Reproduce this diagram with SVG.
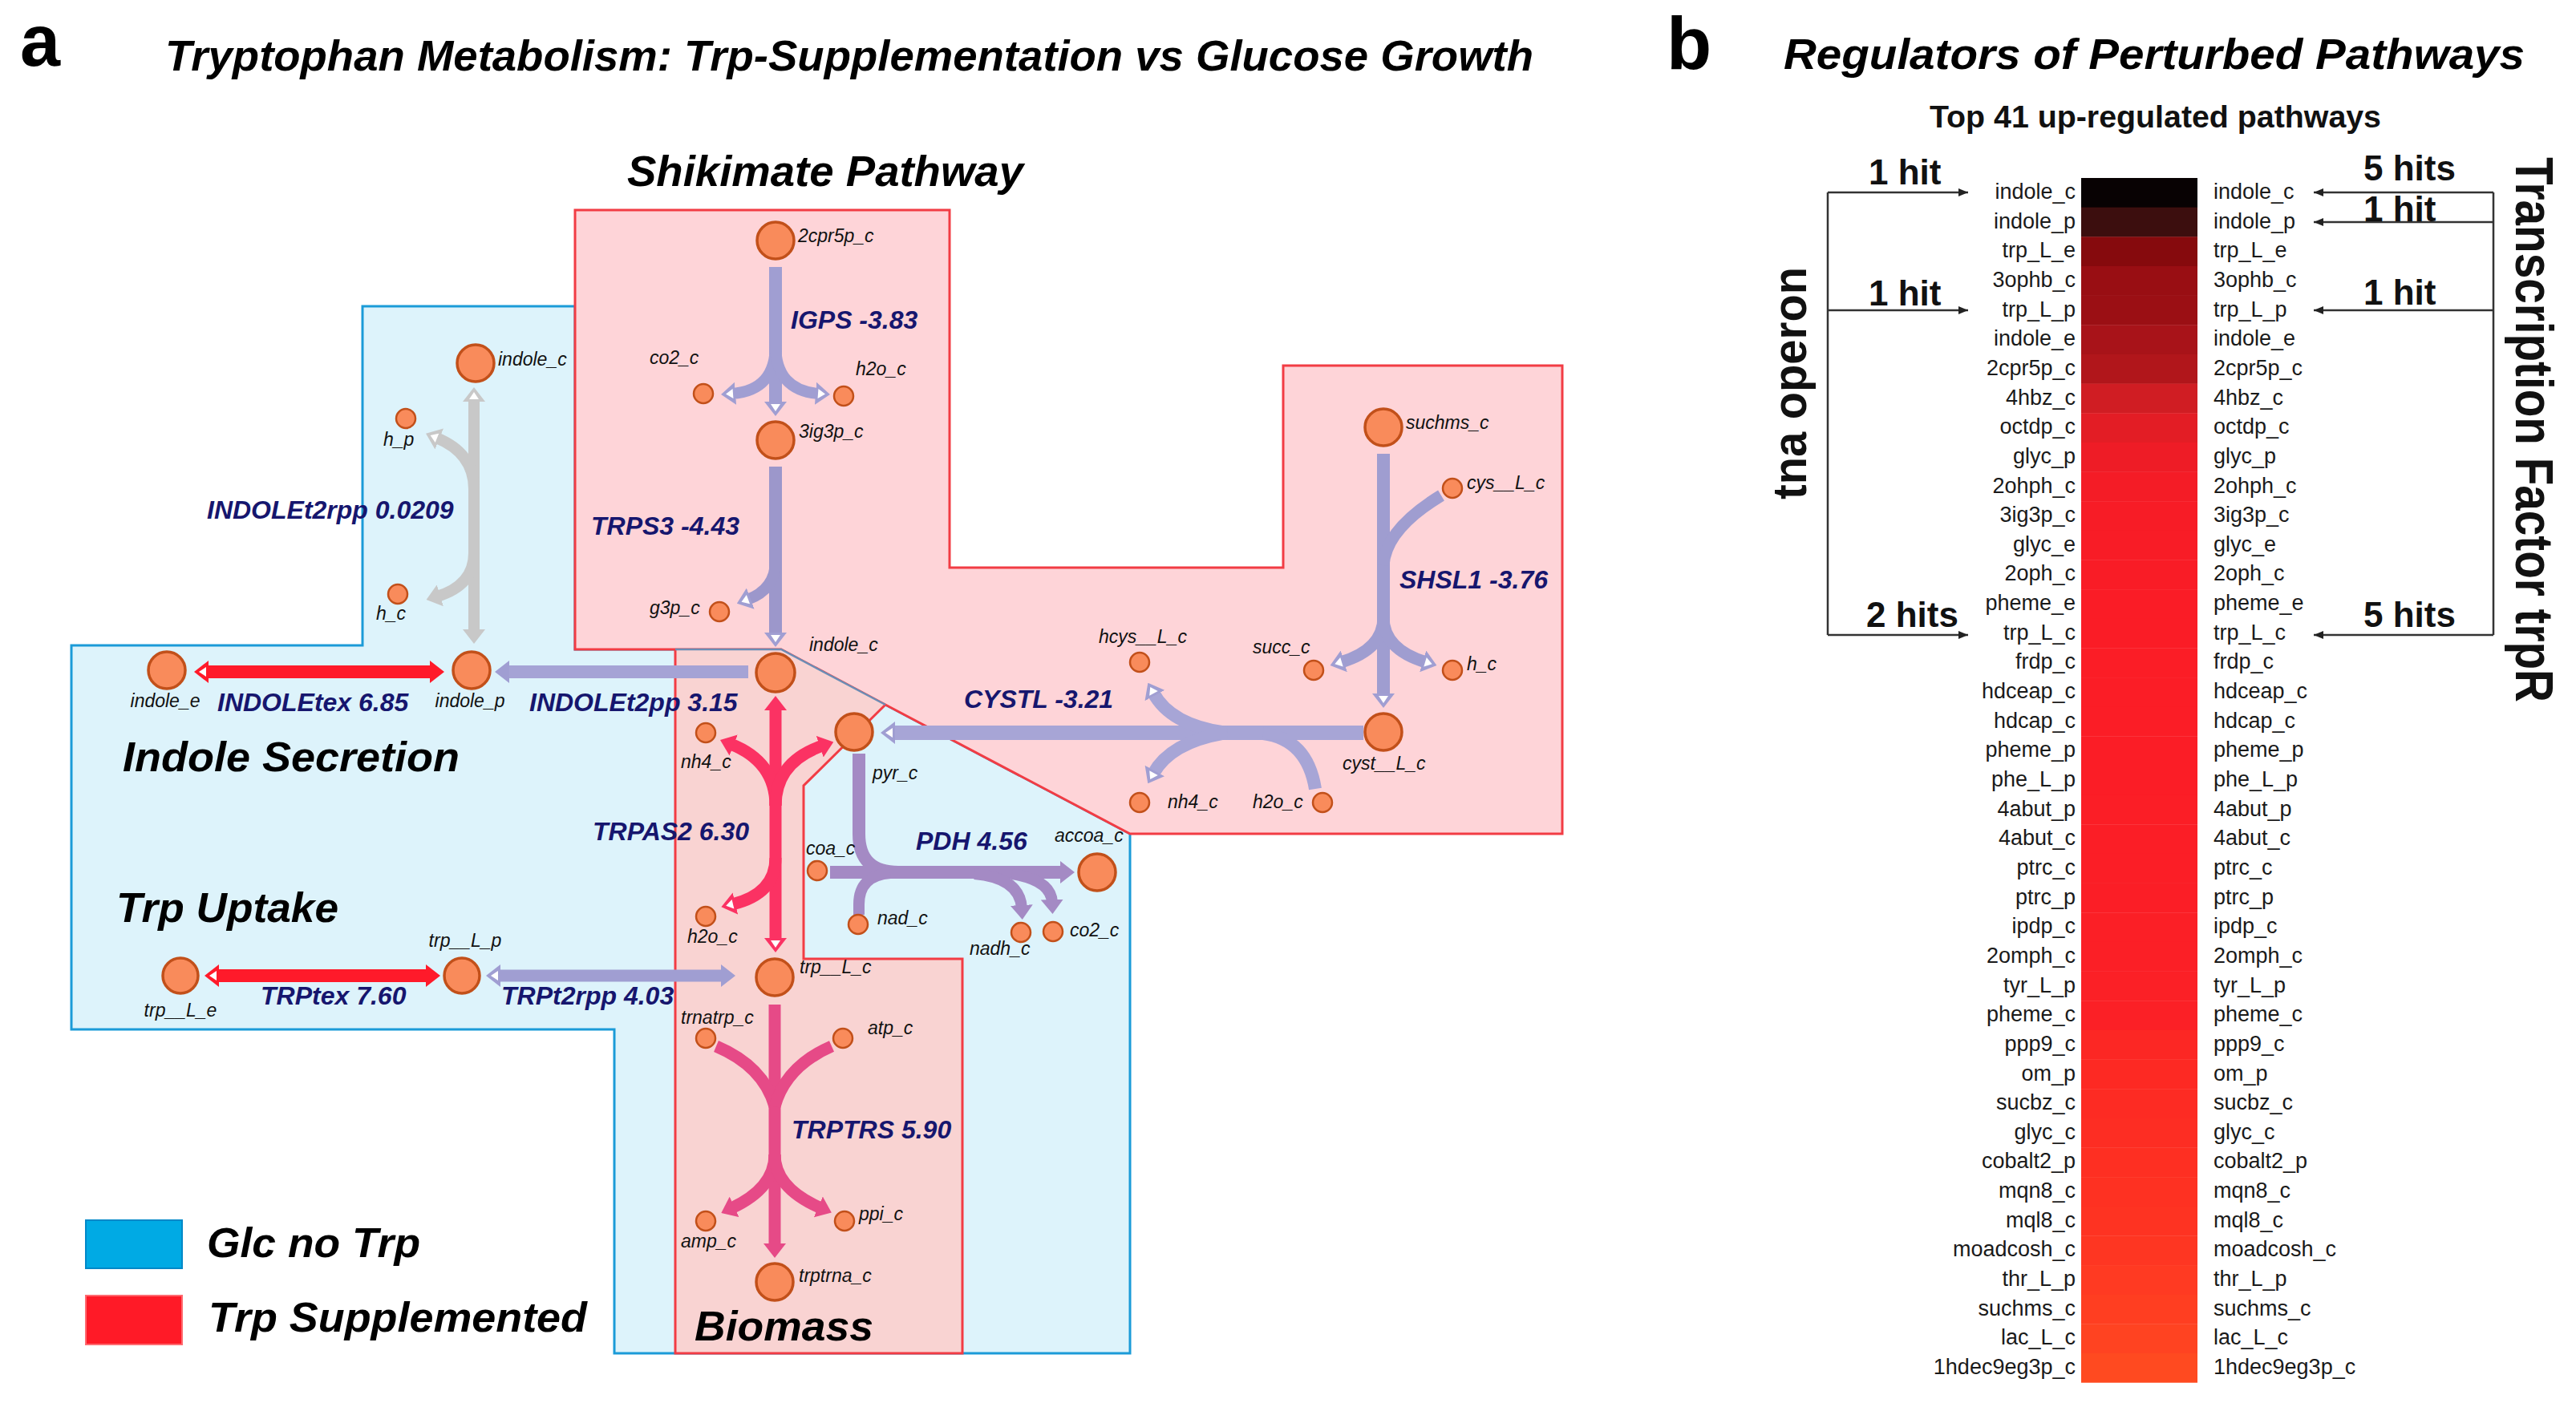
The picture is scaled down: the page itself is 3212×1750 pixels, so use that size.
<svg xmlns="http://www.w3.org/2000/svg" width="3212" height="1750" viewBox="0 0 3212 1750">
<style>
.ttl{font-family:'Liberation Sans',Arial,sans-serif;font-weight:bold;font-style:italic;fill:#000}
.rx{font-family:'Liberation Sans',Arial,sans-serif;font-weight:bold;font-style:italic;font-size:32px;fill:#16166e}
.nl{font-family:'Liberation Sans',Arial,sans-serif;font-style:italic;font-size:23px;fill:#111}
.hl{font-family:'Liberation Sans',Arial,sans-serif;font-size:27px;fill:#1a1a1a}
.hit{font-family:'Liberation Sans',Arial,sans-serif;font-weight:bold;font-size:44px;fill:#111}
.big{fill:#f98b5b;stroke:#c2501a;stroke-width:3.5}
.sm{fill:#f98b5b;stroke:#c2501a;stroke-width:2.5}
.ar{fill:none;stroke-linecap:butt;stroke-linejoin:round}
.ann{fill:none;stroke:#333;stroke-width:2.5}
</style>
<defs>
<marker id="s-gray" viewBox="0 0 18 28" refX="4" refY="14" markerWidth="18" markerHeight="28" markerUnits="userSpaceOnUse" orient="auto-start-reverse"><path d="M0,0 L18,14 L0,28 Z" fill="#c8c8c8"/></marker>
<marker id="h-gray" viewBox="0 0 18 28" refX="4" refY="14" markerWidth="18" markerHeight="28" markerUnits="userSpaceOnUse" orient="auto-start-reverse"><path d="M0,0 L18,14 L0,28 Z" fill="#c8c8c8"/><path d="M3,8 L12,14 L3,20 Z" fill="#fff"/></marker>
<marker id="s-lav" viewBox="0 0 18 28" refX="4" refY="14" markerWidth="18" markerHeight="28" markerUnits="userSpaceOnUse" orient="auto-start-reverse"><path d="M0,0 L18,14 L0,28 Z" fill="#a09ed2"/></marker>
<marker id="h-lav" viewBox="0 0 18 28" refX="4" refY="14" markerWidth="18" markerHeight="28" markerUnits="userSpaceOnUse" orient="auto-start-reverse"><path d="M0,0 L18,14 L0,28 Z" fill="#a09ed2"/><path d="M3,8 L12,14 L3,20 Z" fill="#fff"/></marker>
<marker id="s-pdh" viewBox="0 0 18 28" refX="4" refY="14" markerWidth="18" markerHeight="28" markerUnits="userSpaceOnUse" orient="auto-start-reverse"><path d="M0,0 L18,14 L0,28 Z" fill="#a48ac4"/></marker>
<marker id="s-red" viewBox="0 0 18 28" refX="4" refY="14" markerWidth="18" markerHeight="28" markerUnits="userSpaceOnUse" orient="auto-start-reverse"><path d="M0,0 L18,14 L0,28 Z" fill="#ff1a2a"/></marker>
<marker id="h-red" viewBox="0 0 18 28" refX="4" refY="14" markerWidth="18" markerHeight="28" markerUnits="userSpaceOnUse" orient="auto-start-reverse"><path d="M0,0 L18,14 L0,28 Z" fill="#ff1a2a"/><path d="M3,8 L12,14 L3,20 Z" fill="#fff"/></marker>
<marker id="s-tas" viewBox="0 0 18 28" refX="4" refY="14" markerWidth="18" markerHeight="28" markerUnits="userSpaceOnUse" orient="auto-start-reverse"><path d="M0,0 L18,14 L0,28 Z" fill="#fb3263"/></marker>
<marker id="h-tas" viewBox="0 0 18 28" refX="4" refY="14" markerWidth="18" markerHeight="28" markerUnits="userSpaceOnUse" orient="auto-start-reverse"><path d="M0,0 L18,14 L0,28 Z" fill="#fb3263"/><path d="M3,8 L12,14 L3,20 Z" fill="#fff"/></marker>
<marker id="s-trs" viewBox="0 0 18 28" refX="4" refY="14" markerWidth="18" markerHeight="28" markerUnits="userSpaceOnUse" orient="auto-start-reverse"><path d="M0,0 L18,14 L0,28 Z" fill="#e64a87"/></marker>
<marker id="ah" viewBox="0 0 12 10" refX="12" refY="5" markerWidth="12" markerHeight="10" markerUnits="userSpaceOnUse" orient="auto"><path d="M0,0 L12,5 L0,10 Z" fill="#222"/></marker>
</defs>
<rect width="3212" height="1750" fill="#fff"/>

<!-- compartments -->
<g id="regions">
<polygon points="452,382 717,382 717,810 974,810 1104,879 1409,1040 1409,1688 766,1688 766,1284 89,1284 89,805 452,805" fill="#ddf3fb" stroke="#1b9bd8" stroke-width="3"/>
<polygon points="717,262 1184,262 1184,708 1600,708 1600,456 1948,456 1948,1040 1409,1040 1104,879 974,810 717,810" fill="#fed4d8" stroke="#f23c44" stroke-width="3"/>
<polygon points="842,810 974,810 1104,879 1002,980 1002,1196 1200,1196 1200,1688 842,1688" fill="#f9d3d2"/>
<polyline points="1104,879 1002,980 1002,1196 1200,1196 1200,1688 842,1688 842,810" fill="none" stroke="#f23c44" stroke-width="3"/>
<polyline points="842,810 974,810 1104,879" fill="none" stroke="#6b8db5" stroke-width="2.5"/>
</g>

<!-- titles -->
<text class="ttl" style="font-style:normal" x="25" y="82" font-size="90">a</text>
<text class="ttl" x="206" y="88" font-size="53" textLength="1706" lengthAdjust="spacingAndGlyphs">Tryptophan Metabolism: Trp-Supplementation vs Glucose Growth</text>
<text class="ttl" x="782" y="232" font-size="53" textLength="494" lengthAdjust="spacingAndGlyphs">Shikimate Pathway</text>
<text class="ttl" x="153" y="962" font-size="52" textLength="420" lengthAdjust="spacingAndGlyphs">Indole Secretion</text>
<text class="ttl" x="145" y="1150" font-size="52" textLength="277" lengthAdjust="spacingAndGlyphs">Trp Uptake</text>
<text class="ttl" x="866" y="1672" font-size="52" textLength="223" lengthAdjust="spacingAndGlyphs">Biomass</text>

<!-- connectors -->
<g id="connectors" class="ar">
<!-- INDOLEt2rpp (gray) -->
<path d="M591,497 L591,789" stroke="#c8c8c8" stroke-width="14" marker-start="url(#h-gray)" marker-end="url(#s-gray)"/>
<path d="M591,640 L591,610 Q591,565 544,546" stroke="#c8c8c8" stroke-width="14" marker-end="url(#h-gray)"/>
<path d="M591,640 L591,690 Q591,730 545,744" stroke="#c8c8c8" stroke-width="14" marker-end="url(#s-gray)"/>
<!-- IGPS -->
<path d="M967,333 L967,505" stroke="#a09ed2" stroke-width="16" marker-end="url(#h-lav)"/>
<path d="M967,430 Q967,487 913,491" stroke="#a09ed2" stroke-width="14" marker-end="url(#h-lav)"/>
<path d="M967,430 Q967,487 1021,491" stroke="#a09ed2" stroke-width="14" marker-end="url(#h-lav)"/>
<!-- TRPS3 -->
<path d="M967,582 L967,793" stroke="#9c97cb" stroke-width="16" marker-end="url(#h-lav)"/>
<path d="M967,700 Q967,735 932,748" stroke="#9c97cb" stroke-width="14" marker-end="url(#h-lav)"/>
<!-- INDOLEt2pp -->
<path d="M933,838 L631,838" stroke="#a5a3d5" stroke-width="16" marker-end="url(#s-lav)"/>
<!-- INDOLEtex -->
<path d="M256,838 L540,838" stroke="#ff1a2a" stroke-width="16" marker-start="url(#h-red)" marker-end="url(#s-red)"/>
<!-- TRPtex -->
<path d="M269,1217 L535,1217" stroke="#ff1a2a" stroke-width="16" marker-start="url(#h-red)" marker-end="url(#s-red)"/>
<!-- TRPt2rpp -->
<path d="M620,1217 L903,1217" stroke="#a09ed2" stroke-width="15" marker-start="url(#h-lav)" marker-end="url(#s-lav)"/>
<!-- TRPAS2 -->
<path d="M967,882 L967,1174" stroke="#fb3263" stroke-width="15" marker-start="url(#s-tas)" marker-end="url(#h-tas)"/>
<path d="M967,1005 Q967,950 911,928" stroke="#fb3263" stroke-width="15" marker-end="url(#s-tas)"/>
<path d="M967,1005 Q967,950 1026,930" stroke="#fb3263" stroke-width="15" marker-end="url(#s-tas)"/>
<path d="M967,1070 Q967,1115 913,1128" stroke="#fb3263" stroke-width="15" marker-end="url(#h-tas)"/>
<!-- PDH -->
<path d="M1071,940 L1071,1040 Q1071,1088 1120,1088 L1326,1088" stroke="#a48ac4" stroke-width="16" marker-end="url(#s-pdh)"/>
<path d="M1035,1088 L1130,1088" stroke="#a48ac4" stroke-width="16"/>
<path d="M1071,1141 L1071,1128 Q1071,1092 1110,1089" stroke="#a48ac4" stroke-width="14"/>
<path d="M1215,1090 Q1272,1095 1274,1133" stroke="#a48ac4" stroke-width="14" marker-end="url(#s-pdh)"/>
<path d="M1262,1090 Q1311,1098 1312,1126" stroke="#a48ac4" stroke-width="14" marker-end="url(#s-pdh)"/>
<!-- CYSTL -->
<path d="M1700,914 L1112,914" stroke="#a7a5d6" stroke-width="18" marker-end="url(#h-lav)"/>
<path d="M1530,914 Q1460,905 1438,864" stroke="#a7a5d6" stroke-width="16" marker-end="url(#h-lav)"/>
<path d="M1530,914 Q1460,925 1438,965" stroke="#a7a5d6" stroke-width="16" marker-end="url(#h-lav)"/>
<path d="M1640,984 Q1630,922 1575,915" stroke="#a7a5d6" stroke-width="16"/>
<!-- SHSL1 -->
<path d="M1725,566 L1725,869" stroke="#9f9dd0" stroke-width="16" marker-end="url(#h-lav)"/>
<path d="M1797,618 Q1728,660 1725,705" stroke="#9f9dd0" stroke-width="15"/>
<path d="M1725,770 Q1725,810 1672,826" stroke="#9f9dd0" stroke-width="15" marker-end="url(#h-lav)"/>
<path d="M1725,770 Q1725,810 1778,826" stroke="#9f9dd0" stroke-width="15" marker-end="url(#h-lav)"/>
<!-- TRPTRS -->
<path d="M966,1253 L966,1555" stroke="#e64a87" stroke-width="15" marker-end="url(#s-trs)"/>
<path d="M893,1305 Q952,1330 966,1380" stroke="#e64a87" stroke-width="15"/>
<path d="M1037,1305 Q980,1330 966,1380" stroke="#e64a87" stroke-width="15"/>
<path d="M966,1440 Q966,1482 912,1507" stroke="#e64a87" stroke-width="15" marker-end="url(#s-trs)"/>
<path d="M966,1440 Q966,1482 1024,1507" stroke="#e64a87" stroke-width="15" marker-end="url(#s-trs)"/>
</g>

<!-- reaction labels -->
<g id="reaction-labels">
<text class="rx" x="258" y="647">INDOLEt2rpp 0.0209</text>
<text class="rx" x="986" y="410">IGPS -3.83</text>
<text class="rx" x="737" y="667">TRPS3 -4.43</text>
<text class="rx" x="271" y="887">INDOLEtex 6.85</text>
<text class="rx" x="660" y="887">INDOLEt2pp 3.15</text>
<text class="rx" x="739" y="1048">TRPAS2 6.30</text>
<text class="rx" x="1142" y="1060">PDH 4.56</text>
<text class="rx" x="1202" y="883">CYSTL -3.21</text>
<text class="rx" x="1745" y="734">SHSL1 -3.76</text>
<text class="rx" x="325" y="1253">TRPtex 7.60</text>
<text class="rx" x="625" y="1253">TRPt2rpp 4.03</text>
<text class="rx" x="987" y="1420">TRPTRS 5.90</text>
</g>

<!-- metabolite nodes -->
<g id="n-indole_c-top"><circle class="big" cx="593" cy="453" r="23"/><text class="nl" x="621" y="456">indole_c</text></g>
<g id="n-h_p"><circle class="sm" cx="506" cy="522" r="12"/><text class="nl" x="478" y="556">h_p</text></g>
<g id="n-h_c-left"><circle class="sm" cx="496" cy="741" r="12"/><text class="nl" x="469" y="773">h_c</text></g>
<g id="n-2cpr5p_c"><circle class="big" cx="967" cy="300" r="23"/><text class="nl" x="995" y="302">2cpr5p_c</text></g>
<g id="n-co2_c-igps"><circle class="sm" cx="877" cy="491" r="12"/><text class="nl" x="810" y="454">co2_c</text></g>
<g id="n-h2o_c-igps"><circle class="sm" cx="1052" cy="494" r="12"/><text class="nl" x="1067" y="468">h2o_c</text></g>
<g id="n-3ig3p_c"><circle class="big" cx="967" cy="549" r="23"/><text class="nl" x="996" y="546">3ig3p_c</text></g>
<g id="n-g3p_c"><circle class="sm" cx="897" cy="763" r="12"/><text class="nl" x="810" y="766">g3p_c</text></g>
<g id="n-indole_c"><circle class="big" cx="967" cy="839" r="24"/><text class="nl" x="1009" y="812">indole_c</text></g>
<g id="n-indole_p"><circle class="big" cx="588" cy="836" r="23"/><text class="nl" x="586" y="882" text-anchor="middle">indole_p</text></g>
<g id="n-indole_e"><circle class="big" cx="208" cy="836" r="23"/><text class="nl" x="206" y="882" text-anchor="middle">indole_e</text></g>
<g id="n-nh4_c-trpas2"><circle class="sm" cx="880" cy="914" r="12"/><text class="nl" x="849" y="958">nh4_c</text></g>
<g id="n-h2o_c-trpas2"><circle class="sm" cx="880" cy="1143" r="12"/><text class="nl" x="857" y="1176">h2o_c</text></g>
<g id="n-pyr_c"><circle class="big" cx="1065" cy="913" r="23"/><text class="nl" x="1088" y="972">pyr_c</text></g>
<g id="n-coa_c"><circle class="sm" cx="1019" cy="1086" r="12"/><text class="nl" x="1005" y="1066">coa_c</text></g>
<g id="n-nad_c"><circle class="sm" cx="1070" cy="1153" r="12"/><text class="nl" x="1094" y="1153">nad_c</text></g>
<g id="n-accoa_c"><circle class="big" cx="1368" cy="1088" r="23"/><text class="nl" x="1315" y="1050">accoa_c</text></g>
<g id="n-nadh_c"><circle class="sm" cx="1273" cy="1163" r="12"/><text class="nl" x="1209" y="1191">nadh_c</text></g>
<g id="n-co2_c-pdh"><circle class="sm" cx="1313" cy="1162" r="12"/><text class="nl" x="1334" y="1168">co2_c</text></g>
<g id="n-hcys__L_c"><circle class="sm" cx="1421" cy="826" r="12"/><text class="nl" x="1370" y="802">hcys__L_c</text></g>
<g id="n-nh4_c-cystl"><circle class="sm" cx="1421" cy="1001" r="12"/><text class="nl" x="1456" y="1008">nh4_c</text></g>
<g id="n-h2o_c-cystl"><circle class="sm" cx="1649" cy="1001" r="12"/><text class="nl" x="1562" y="1008">h2o_c</text></g>
<g id="n-cyst__L_c"><circle class="big" cx="1725" cy="913" r="23"/><text class="nl" x="1674" y="960">cyst__L_c</text></g>
<g id="n-suchms_c"><circle class="big" cx="1725" cy="533" r="23"/><text class="nl" x="1753" y="535">suchms_c</text></g>
<g id="n-cys__L_c"><circle class="sm" cx="1811" cy="609" r="12"/><text class="nl" x="1829" y="610">cys__L_c</text></g>
<g id="n-succ_c"><circle class="sm" cx="1638" cy="836" r="12"/><text class="nl" x="1562" y="815">succ_c</text></g>
<g id="n-h_c-shsl1"><circle class="sm" cx="1811" cy="836" r="12"/><text class="nl" x="1829" y="836">h_c</text></g>
<g id="n-trp__L_e"><circle class="big" cx="225" cy="1217" r="22"/><text class="nl" x="225" y="1268" text-anchor="middle">trp__L_e</text></g>
<g id="n-trp__L_p"><circle class="big" cx="576" cy="1217" r="22"/><text class="nl" x="580" y="1181" text-anchor="middle">trp__L_p</text></g>
<g id="n-trp__L_c"><circle class="big" cx="966" cy="1219" r="23"/><text class="nl" x="997" y="1214">trp__L_c</text></g>
<g id="n-trnatrp_c"><circle class="sm" cx="880" cy="1295" r="12"/><text class="nl" x="849" y="1277">trnatrp_c</text></g>
<g id="n-atp_c"><circle class="sm" cx="1051" cy="1295" r="12"/><text class="nl" x="1082" y="1290">atp_c</text></g>
<g id="n-amp_c"><circle class="sm" cx="880" cy="1523" r="12"/><text class="nl" x="849" y="1556">amp_c</text></g>
<g id="n-ppi_c"><circle class="sm" cx="1053" cy="1523" r="12"/><text class="nl" x="1071" y="1522">ppi_c</text></g>
<g id="n-trptrna_c"><circle class="big" cx="966" cy="1599" r="23"/><text class="nl" x="996" y="1599">trptrna_c</text></g>

<!-- legend -->
<g id="legend">
<rect x="107" y="1522" width="120" height="60" fill="#00aae4" stroke="#0088c8" stroke-width="2"/>
<rect x="107" y="1616" width="120" height="61" fill="#ff1a27" stroke="#ff6a70" stroke-width="2"/>
<text class="ttl" x="258" y="1568" font-size="52" textLength="266" lengthAdjust="spacingAndGlyphs">Glc no Trp</text>
<text class="ttl" x="260" y="1661" font-size="52" textLength="472" lengthAdjust="spacingAndGlyphs">Trp Supplemented</text>
</g>

<!-- panel b -->
<text class="ttl" style="font-style:normal" x="2078" y="86" font-size="92">b</text>
<text class="ttl" x="2224" y="86" font-size="53" textLength="924" lengthAdjust="spacingAndGlyphs">Regulators of Perturbed Pathways</text>
<text x="2406" y="159" font-family="'Liberation Sans',Arial,sans-serif" font-weight="bold" font-size="38" fill="#111" textLength="563" lengthAdjust="spacingAndGlyphs">Top 41 up-regulated pathways</text>

<g id="heatmap">
<rect x="2595" y="222.0" width="145" height="37" fill="#080203"/>
<rect x="2595" y="258.65" width="145" height="37" fill="#3c0e0e"/>
<rect x="2595" y="295.3" width="145" height="37" fill="#860a0d"/>
<rect x="2595" y="331.95" width="145" height="37" fill="#990e13"/>
<rect x="2595" y="368.6" width="145" height="37" fill="#9b0f14"/>
<rect x="2595" y="405.25" width="145" height="37" fill="#a81319"/>
<rect x="2595" y="441.9" width="145" height="37" fill="#b1161b"/>
<rect x="2595" y="478.55" width="145" height="37" fill="#d01d23"/>
<rect x="2595" y="515.2" width="145" height="37" fill="#e31d25"/>
<rect x="2595" y="551.85" width="145" height="37" fill="#ee1c26"/>
<rect x="2595" y="588.5" width="145" height="37" fill="#f41c26"/>
<rect x="2595" y="625.15" width="145" height="37" fill="#f71c26"/>
<rect x="2595" y="661.8" width="145" height="37" fill="#f81c26"/>
<rect x="2595" y="698.45" width="145" height="37" fill="#f91c26"/>
<rect x="2595" y="735.1" width="145" height="37" fill="#fa1c26"/>
<rect x="2595" y="771.75" width="145" height="37" fill="#fa1c26"/>
<rect x="2595" y="808.4" width="145" height="37" fill="#fb1d26"/>
<rect x="2595" y="845.05" width="145" height="37" fill="#fb1d26"/>
<rect x="2595" y="881.7" width="145" height="37" fill="#fb1d26"/>
<rect x="2595" y="918.35" width="145" height="37" fill="#fb1d26"/>
<rect x="2595" y="955.0" width="145" height="37" fill="#fb1d26"/>
<rect x="2595" y="991.65" width="145" height="37" fill="#fb1e26"/>
<rect x="2595" y="1028.3" width="145" height="37" fill="#fb1e26"/>
<rect x="2595" y="1064.95" width="145" height="37" fill="#fb1e26"/>
<rect x="2595" y="1101.6" width="145" height="37" fill="#fb1e26"/>
<rect x="2595" y="1138.25" width="145" height="37" fill="#fb1f26"/>
<rect x="2595" y="1174.9" width="145" height="37" fill="#fb1f26"/>
<rect x="2595" y="1211.55" width="145" height="37" fill="#fb2026"/>
<rect x="2595" y="1248.2" width="145" height="37" fill="#fb2026"/>
<rect x="2595" y="1284.85" width="145" height="37" fill="#fc2724"/>
<rect x="2595" y="1321.5" width="145" height="37" fill="#fd2923"/>
<rect x="2595" y="1358.15" width="145" height="37" fill="#fd2b23"/>
<rect x="2595" y="1394.8" width="145" height="37" fill="#fd2d23"/>
<rect x="2595" y="1431.45" width="145" height="37" fill="#fe2f22"/>
<rect x="2595" y="1468.1" width="145" height="37" fill="#fe3122"/>
<rect x="2595" y="1504.75" width="145" height="37" fill="#fe3322"/>
<rect x="2595" y="1541.4" width="145" height="37" fill="#fe3622"/>
<rect x="2595" y="1578.05" width="145" height="37" fill="#ff3a22"/>
<rect x="2595" y="1614.7" width="145" height="37" fill="#ff3e21"/>
<rect x="2595" y="1651.35" width="145" height="37" fill="#ff4321"/>
<rect x="2595" y="1688.0" width="145" height="36.7" fill="#ff4a20"/>
</g>

<g id="labels-left" class="hl" text-anchor="end">
<text x="2588" y="248">indole_c</text>
<text x="2588" y="284.65">indole_p</text>
<text x="2588" y="321.3">trp_L_e</text>
<text x="2588" y="357.95">3ophb_c</text>
<text x="2588" y="394.6">trp_L_p</text>
<text x="2588" y="431.25">indole_e</text>
<text x="2588" y="467.9">2cpr5p_c</text>
<text x="2588" y="504.55">4hbz_c</text>
<text x="2588" y="541.2">octdp_c</text>
<text x="2588" y="577.85">glyc_p</text>
<text x="2588" y="614.5">2ohph_c</text>
<text x="2588" y="651.15">3ig3p_c</text>
<text x="2588" y="687.8">glyc_e</text>
<text x="2588" y="724.45">2oph_c</text>
<text x="2588" y="761.1">pheme_e</text>
<text x="2588" y="797.75">trp_L_c</text>
<text x="2588" y="834.4">frdp_c</text>
<text x="2588" y="871.05">hdceap_c</text>
<text x="2588" y="907.7">hdcap_c</text>
<text x="2588" y="944.35">pheme_p</text>
<text x="2588" y="981">phe_L_p</text>
<text x="2588" y="1017.65">4abut_p</text>
<text x="2588" y="1054.3">4abut_c</text>
<text x="2588" y="1090.95">ptrc_c</text>
<text x="2588" y="1127.6">ptrc_p</text>
<text x="2588" y="1164.25">ipdp_c</text>
<text x="2588" y="1200.9">2omph_c</text>
<text x="2588" y="1237.55">tyr_L_p</text>
<text x="2588" y="1274.2">pheme_c</text>
<text x="2588" y="1310.85">ppp9_c</text>
<text x="2588" y="1347.5">om_p</text>
<text x="2588" y="1384.15">sucbz_c</text>
<text x="2588" y="1420.8">glyc_c</text>
<text x="2588" y="1457.45">cobalt2_p</text>
<text x="2588" y="1494.1">mqn8_c</text>
<text x="2588" y="1530.75">mql8_c</text>
<text x="2588" y="1567.4">moadcosh_c</text>
<text x="2588" y="1604.05">thr_L_p</text>
<text x="2588" y="1640.7">suchms_c</text>
<text x="2588" y="1677.35">lac_L_c</text>
<text x="2588" y="1714">1hdec9eg3p_c</text>
</g>

<g id="labels-right" class="hl">
<text x="2760" y="248">indole_c</text>
<text x="2760" y="284.65">indole_p</text>
<text x="2760" y="321.3">trp_L_e</text>
<text x="2760" y="357.95">3ophb_c</text>
<text x="2760" y="394.6">trp_L_p</text>
<text x="2760" y="431.25">indole_e</text>
<text x="2760" y="467.9">2cpr5p_c</text>
<text x="2760" y="504.55">4hbz_c</text>
<text x="2760" y="541.2">octdp_c</text>
<text x="2760" y="577.85">glyc_p</text>
<text x="2760" y="614.5">2ohph_c</text>
<text x="2760" y="651.15">3ig3p_c</text>
<text x="2760" y="687.8">glyc_e</text>
<text x="2760" y="724.45">2oph_c</text>
<text x="2760" y="761.1">pheme_e</text>
<text x="2760" y="797.75">trp_L_c</text>
<text x="2760" y="834.4">frdp_c</text>
<text x="2760" y="871.05">hdceap_c</text>
<text x="2760" y="907.7">hdcap_c</text>
<text x="2760" y="944.35">pheme_p</text>
<text x="2760" y="981">phe_L_p</text>
<text x="2760" y="1017.65">4abut_p</text>
<text x="2760" y="1054.3">4abut_c</text>
<text x="2760" y="1090.95">ptrc_c</text>
<text x="2760" y="1127.6">ptrc_p</text>
<text x="2760" y="1164.25">ipdp_c</text>
<text x="2760" y="1200.9">2omph_c</text>
<text x="2760" y="1237.55">tyr_L_p</text>
<text x="2760" y="1274.2">pheme_c</text>
<text x="2760" y="1310.85">ppp9_c</text>
<text x="2760" y="1347.5">om_p</text>
<text x="2760" y="1384.15">sucbz_c</text>
<text x="2760" y="1420.8">glyc_c</text>
<text x="2760" y="1457.45">cobalt2_p</text>
<text x="2760" y="1494.1">mqn8_c</text>
<text x="2760" y="1530.75">mql8_c</text>
<text x="2760" y="1567.4">moadcosh_c</text>
<text x="2760" y="1604.05">thr_L_p</text>
<text x="2760" y="1640.7">suchms_c</text>
<text x="2760" y="1677.35">lac_L_c</text>
<text x="2760" y="1714">1hdec9eg3p_c</text>
</g>

<g id="tna-operon">
<path class="ann" d="M2279,240 L2279,792"/>
<path class="ann" d="M2279,240 L2454,240" marker-end="url(#ah)"/>
<path class="ann" d="M2279,387 L2454,387" marker-end="url(#ah)"/>
<path class="ann" d="M2279,792 L2454,792" marker-end="url(#ah)"/>
<text class="hit" x="2330" y="230">1 hit</text>
<text class="hit" x="2330" y="381">1 hit</text>
<text class="hit" x="2327" y="782">2 hits</text>
<text transform="translate(2252,623) rotate(-90)" font-family="'Liberation Sans',Arial,sans-serif" font-weight="bold" font-size="60" fill="#111" textLength="290" lengthAdjust="spacingAndGlyphs">tna operon</text>
</g>

<g id="trpR">
<path class="ann" d="M3109,240 L3109,792"/>
<path class="ann" d="M3109,240 L2885,240" marker-end="url(#ah)"/>
<path class="ann" d="M3109,277 L2885,277" marker-end="url(#ah)"/>
<path class="ann" d="M3109,387 L2885,387" marker-end="url(#ah)"/>
<path class="ann" d="M3109,792 L2885,792" marker-end="url(#ah)"/>
<text class="hit" x="2947" y="225">5 hits</text>
<text class="hit" x="2947" y="276">1 hit</text>
<text class="hit" x="2947" y="380">1 hit</text>
<text class="hit" x="2947" y="782">5 hits</text>
<text transform="translate(3137,196) rotate(90)" font-family="'Liberation Sans',Arial,sans-serif" font-weight="bold" font-size="66" fill="#111" textLength="680" lengthAdjust="spacingAndGlyphs">Transcription Factor trpR</text>
</g>
</svg>
